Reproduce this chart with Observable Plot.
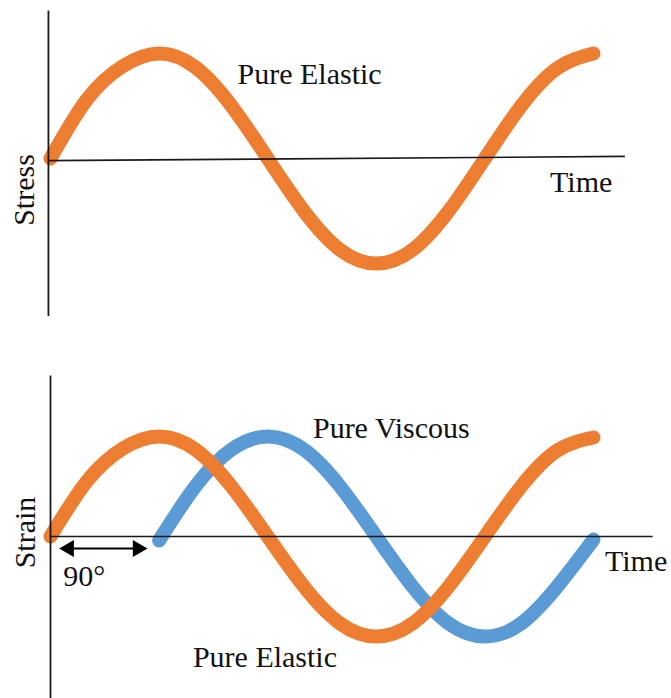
<!DOCTYPE html>
<html><head><meta charset="utf-8">
<script src="https://cdn.jsdelivr.net/npm/d3@7"></script>
<script src="https://cdn.jsdelivr.net/npm/@observablehq/plot@0.6"></script>
<style>
body{margin:0;background:#fff;}
#chart svg{display:block;}
#chart svg text{font-family:'Liberation Serif','Times New Roman',serif;}
</style></head><body><div id="chart"></div>
<script>
// Phase angle (degrees) along the time axis
const phase = [0,30,60,90,120,150,180,210,240,270,300,330,360,390,420,450];
// Top panel: stress, pure elastic response (normalised amplitude)
const stressElastic = [0,0.56,0.88,1,0.87,0.5,0,-0.5,-0.87,-1,-0.87,-0.5,0,0.5,0.86,1];
// Bottom panel: strain, pure elastic response
const strainElastic = [0,0.55,0.88,1,0.87,0.5,0,-0.5,-0.87,-1,-0.87,-0.5,0,0.5,0.86,0.99];
// Bottom panel: strain, pure viscous response (lags by 90°)
const viscousPhase = [90,120,150,180,210,240,270,300,330,360,390,420,450];
const strainViscous = [-0.04,0.5,0.87,1,0.87,0.5,0,-0.5,-0.87,-1,-0.87,-0.5,-0.03];

const topLabels = [
  {text:"Pure Elastic", p:155, v:0.80},
  {text:"Time", p:414, v:-0.23}
];
const topYLabel = [{text:"Stress", p:-22, v:-0.30}];
const bottomLabels = [
  {text:"Pure Viscous", p:217.5, v:1.08},
  {text:"Pure Elastic", p:118, v:-1.21},
  {text:"Time", p:459.5, v:-0.25},
  {text:"90°", p:10.5, v:-0.40}
];
const bottomYLabel = [{text:"Strain", p:-21, v:0.04}];

const ORANGE = "#ED7D31", BLUE = "#5B9BD5", AXIS = "#1a1a1a";
const FONT = "Liberation Serif";
const FS = 30;

const tbl = (xs, ys) => xs.map((p,i) => ({p, v: ys[i]}));

const topPlot = Plot.plot({
  width: 671, height: 345,
  style: {fontFamily: FONT},
  x: {domain:[0,450], range:[50,593], axis:null},
  y: {domain:[-1,1], range:[263,53], axis:null},
  marks: [
    Plot.line(tbl(phase, stressElastic), {x:"p", y:"v", stroke:ORANGE, strokeWidth:14, strokeLinecap:"round", strokeLinejoin:"round", curve:"natural"}),
    Plot.link([{x1:-1.7, x2:-1.7, y1:1.41, y2:-1.5}], {x1:"x1", x2:"x2", y1:"y1", y2:"y2", stroke:AXIS, strokeWidth:1.8}),
    Plot.link([{x1:-1.7, x2:476, y1:-0.02, y2:0.02}], {x1:"x1", x2:"x2", y1:"y1", y2:"y2", stroke:AXIS, strokeWidth:1.6}),
    Plot.text(topLabels, {x:"p", y:"v", text:"text", textAnchor:"start", lineAnchor:"middle", fontSize:FS, fontFamily:FONT, fill:"#111"}),
    Plot.text(topYLabel, {x:"p", y:"v", text:"text", rotate:-90, textAnchor:"middle", lineAnchor:"middle", fontSize:FS, fontFamily:FONT, fill:"#111"})
  ]
});

const bottomPlot = Plot.plot({
  width: 671, height: 353,
  style: {fontFamily: FONT},
  x: {domain:[0,450], range:[50,593], axis:null},
  y: {domain:[-1,1], range:[291,91], axis:null},
  marks: [
    Plot.line(tbl(viscousPhase, strainViscous), {x:"p", y:"v", stroke:BLUE, strokeWidth:14, strokeLinecap:"round", strokeLinejoin:"round", curve:"natural"}),
    Plot.line(tbl(phase, strainElastic), {x:"p", y:"v", stroke:ORANGE, strokeWidth:14, strokeLinecap:"round", strokeLinejoin:"round", curve:"natural"}),
    Plot.link([{x1:0, x2:0, y1:1.61, y2:-1.7}], {x1:"x1", x2:"x2", y1:"y1", y2:"y2", stroke:AXIS, strokeWidth:1.8}),
    Plot.link([{x1:0, x2:499, y1:0, y2:0}], {x1:"x1", x2:"x2", y1:"y1", y2:"y2", stroke:AXIS, strokeWidth:1.6}),
    // 90° phase-lag double arrow
    Plot.link([{x1:10, x2:75, y1:-0.12, y2:-0.12}], {x1:"x1", x2:"x2", y1:"y1", y2:"y2", stroke:"#000", strokeWidth:2.2}),
    Plot.dot([{p:15.3, v:-0.12, r:-90},{p:72.3, v:-0.12, r:90}], {x:"p", y:"v", rotate:"r", symbol:"triangle", r:6.3, fill:"#000", stroke:"none"}),
    Plot.text(bottomLabels, {x:"p", y:"v", text:"text", textAnchor:"start", lineAnchor:"middle", fontSize:FS, fontFamily:FONT, fill:"#111"}),
    Plot.text(bottomYLabel, {x:"p", y:"v", text:"text", rotate:-90, textAnchor:"middle", lineAnchor:"middle", fontSize:FS, fontFamily:FONT, fill:"#111"})
  ]
});

const root = document.getElementById("chart");
root.appendChild(topPlot);
root.appendChild(bottomPlot);
</script>
</body></html>
